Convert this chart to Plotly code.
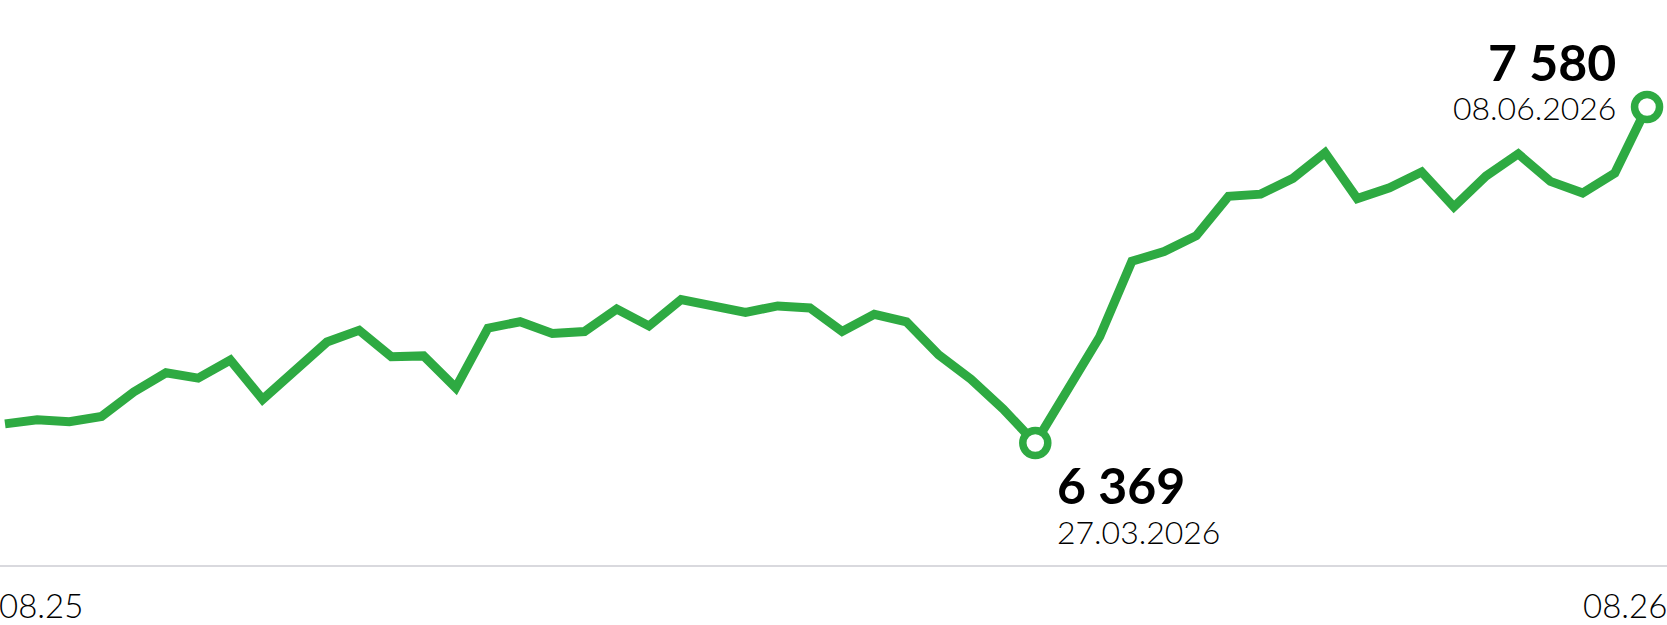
import plotly.graph_objects as go

# Values (weekly series)
values = [6438, 6453, 6446, 6465, 6553, 6622, 6603, 6668, 6526, 6626,
          6733, 6775, 6680, 6683, 6568, 6783, 6806, 6764, 6771, 6852,
          6791, 6886, 6863, 6840, 6863, 6856, 6771, 6833, 6806, 6687,
          6599, 6492, 6369, 6568, 6752, 7024, 7059, 7116, 7258, 7266,
          7323, 7415, 7250, 7289, 7346, 7220, 7331, 7411, 7312, 7270,
          7342, 7580]
min_date = "27.03.2026"
max_date = "08.06.2026"
tick_labels = ["08.25", "08.26"]

GREEN = "#2eaa42"
FONT = "Lato"
TXT = "#000000"

x = list(range(len(values)))
imin = min(range(len(values)), key=lambda i: values[i])
imax = max(range(len(values)), key=lambda i: values[i])

def fmt(v):
    return f"{v:,}".replace(",", " ")

fig = go.Figure()
fig.add_trace(go.Scatter(x=x, y=values, mode="lines",
                         line=dict(color=GREEN, width=9, shape="linear"),
                         hoverinfo="skip"))
fig.add_trace(go.Scatter(x=[imin, imax], y=[values[imin], values[imax]], mode="markers",
                         marker=dict(symbol="circle", size=25, color="white",
                                     line=dict(color=GREEN, width=7.5)),
                         hoverinfo="skip"))

ann = []
# min annotation
ann.append(dict(x=imin, y=values[imin], xref="x", yref="y", text=f"<b>{fmt(values[imin])}</b>",
                showarrow=False, xanchor="left", yanchor="middle", xshift=20, yshift=-42,
                font=dict(family=FONT, size=50, color=TXT)))
ann.append(dict(x=imin, y=values[imin], xref="x", yref="y", text=min_date,
                showarrow=False, xanchor="left", yanchor="middle", xshift=20, yshift=-88,
                font=dict(family=FONT, size=32, color=TXT, weight=300)))
# max annotation
ann.append(dict(x=imax, y=values[imax], xref="x", yref="y", text=f"<b>{fmt(values[imax])}</b>",
                showarrow=False, xanchor="right", yanchor="middle", xshift=-29, yshift=45,
                font=dict(family=FONT, size=50, color=TXT)))
ann.append(dict(x=imax, y=values[imax], xref="x", yref="y", text=max_date,
                showarrow=False, xanchor="right", yanchor="middle", xshift=-29, yshift=0,
                font=dict(family=FONT, size=32, color=TXT, weight=300)))
# axis labels
ann.append(dict(x=0, y=0, xref="paper", yref="paper", text=tick_labels[0], showarrow=False,
                xanchor="left", yanchor="top", xshift=-3, yshift=-18,
                font=dict(family=FONT, size=33, color=TXT, weight=300)))
ann.append(dict(x=1, y=0, xref="paper", yref="paper", text=tick_labels[1], showarrow=False,
                xanchor="right", yanchor="top", xshift=2, yshift=-18,
                font=dict(family=FONT, size=33, color=TXT, weight=300)))

fig.update_layout(
    width=1667, height=625,
    margin=dict(l=0, r=0, t=0, b=60),
    paper_bgcolor="white", plot_bgcolor="white",
    showlegend=False,
    annotations=ann,
    xaxis=dict(range=[-0.155, 51.62], showgrid=False, zeroline=False, showticklabels=False,
               showline=True, linecolor="#d9d9de", linewidth=2, fixedrange=True),
    yaxis=dict(range=[5929.4, 7965.6], showgrid=False, zeroline=False, showticklabels=False,
               showline=False, fixedrange=True),
)
fig.write_html("out.html", config={"displayModeBar": False},
               post_script="document.body.style.margin='0';document.body.style.overflow='hidden';")
